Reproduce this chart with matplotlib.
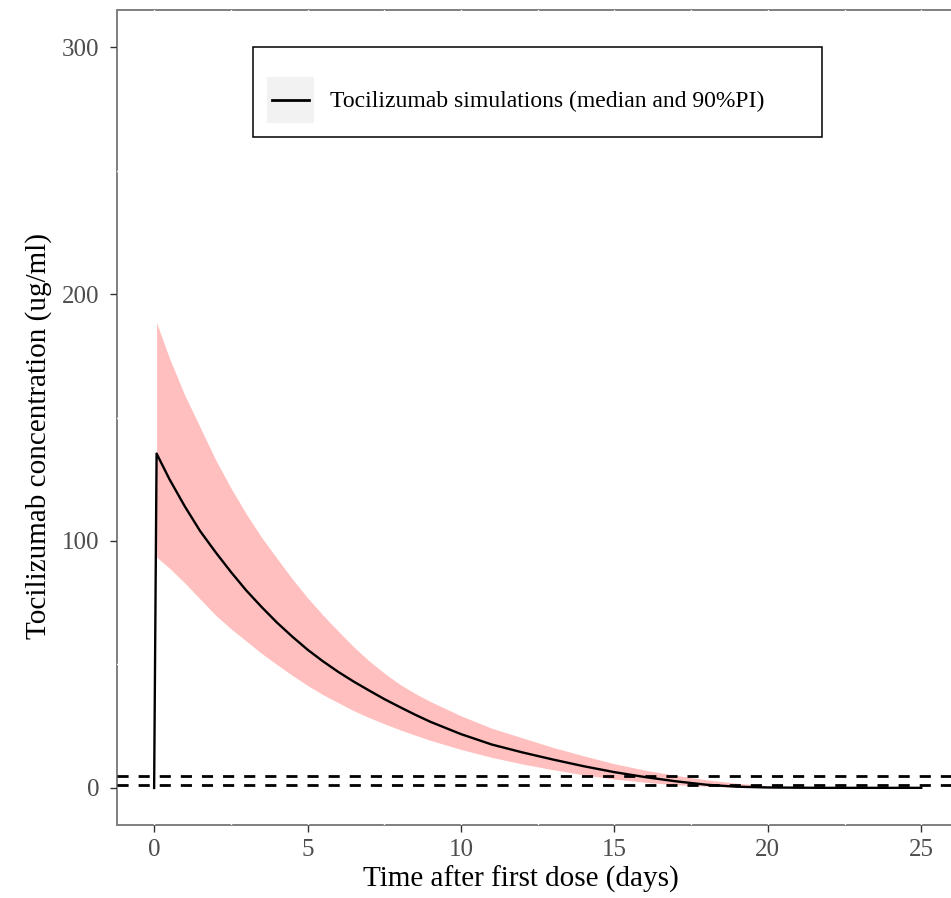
import matplotlib
matplotlib.use("Agg")
import matplotlib.pyplot as plt
from matplotlib.patches import Rectangle
from matplotlib.lines import Line2D
from matplotlib.legend_handler import HandlerBase
from matplotlib.ticker import MultipleLocator

plt.rcParams['font.family'] = ['Liberation Serif', 'DejaVu Serif']

# simulated concentration-time profile
time_median = [0, 0.08, 0.5, 1, 1.5, 2, 2.5, 3, 3.5, 4, 4.5, 5, 5.5, 6, 6.5, 7,
               7.5, 8, 8.5, 9, 10, 11, 12, 13, 14, 15, 16, 17, 18, 19, 20, 21,
               22, 23, 24, 25]
conc_median = [0, 135.4, 125, 114, 104, 95.5, 87.5, 80, 73.3, 67, 61.3, 56, 51.3,
               47, 43.1, 39.5, 36, 32.8, 29.7, 26.8, 21.8, 17.6, 14.4, 11.5, 8.8,
               6.4, 4.4, 2.7, 1.3, 0.5, 0.2, 0.1, 0.05, 0.05, 0.05, 0.05]

time_band = [0.08, 0.5, 1, 1.5, 2, 2.5, 3, 3.5, 4, 4.5, 5, 5.5, 6, 6.5, 7, 7.5,
             8, 8.5, 9, 10, 11, 12, 13, 14, 15, 16, 17, 18, 19, 20, 21, 22, 23,
             24, 25]
conc_p95 = [188.4, 174, 159, 146, 133, 121.5, 111, 101.5, 93, 84.7, 77, 70, 63.5,
            57.2, 51.5, 46.5, 42, 38.3, 35, 29.2, 24.2, 20.3, 16.4, 13, 9.8, 7.2,
            5.1, 3.3, 1.9, 0.9, 0.4, 0.2, 0.1, 0.1, 0.1]
conc_p05 = [93.5, 89, 83, 76.5, 70, 64.5, 59.5, 54.5, 50, 45.6, 41.5, 37.8, 34.5,
            31.3, 28.5, 26, 23.6, 21.4, 19.3, 15.6, 12.4, 9.7, 7.4, 5.3, 3.6, 2.3,
            1.3, 0.7, 0.3, 0.1, 0.05, 0.05, 0.05, 0.05, 0.05]

thresholds = [1, 5]


class KeyHandler(HandlerBase):
    # grey key box with a shorter black line, like a ggplot legend key
    def create_artists(self, legend, orig_handle, xdescent, ydescent,
                       width, height, fontsize, trans):
        box = Rectangle((-xdescent, -ydescent), width, height,
                        facecolor='#F2F2F2', edgecolor='none', transform=trans)
        inset = width * 0.1
        y = -ydescent + height / 2
        line = Line2D([-xdescent + inset, -xdescent + width - inset], [y, y],
                      color='black', lw=2.0, transform=trans)
        return [box, line]


W, H = 951, 898
fig = plt.figure(figsize=(W / 100, H / 100), dpi=100)
ax = fig.add_axes([117 / W, 73 / H, 842 / W, 815 / H])

ax.fill_between(time_band, conc_p05, conc_p95, color='#FFBFBF', lw=0, zorder=1)
median_line, = ax.plot(time_median, conc_median, color='black', lw=1.7, zorder=3)
for th in thresholds:
    ax.axhline(th, color='black', lw=2.0, linestyle=(0, (4, 3.6)), zorder=2)

ax.set_xlim(-1.21, 26.23)
ax.set_ylim(-15, 315)
ax.xaxis.set_major_locator(MultipleLocator(5))
ax.xaxis.set_minor_locator(MultipleLocator(2.5))
ax.yaxis.set_major_locator(MultipleLocator(100))
ax.yaxis.set_minor_locator(MultipleLocator(50))

# white grid only shows where it crosses the grey frame
for sp in ax.spines.values():
    sp.set_color('#7F7F7F')
    sp.set_linewidth(1.4)
    sp.set_zorder(0.3)
ax.grid(which='both', color='white', lw=1.0)
ax.set_axisbelow(True)

ax.tick_params(which='major', length=5, width=1.0, color='#333333',
               labelsize=18, labelcolor='#4D4D4D', pad=7.5)
ax.tick_params(axis='x', which='major', pad=5)
ax.tick_params(which='minor', length=0)

ax.set_xlabel('Time after first dose (days)', fontsize=21)
ax.set_ylabel('Tocilizumab concentration (ug/ml)', fontsize=21)
ax.xaxis.set_label_coords((521 - 117) / 842, (825 - 866) / 815)
ax.yaxis.set_label_coords((52 - 117) / 842, (825 - 436) / 815)

leg = fig.legend([median_line], ['Tocilizumab simulations (median and 90%PI)'],
                 handler_map={Line2D: KeyHandler()},
                 loc='upper left', mode='expand',
                 bbox_to_anchor=(253 / W, 1 - 137 / H, (822 - 253) / W, 90 / H),
                 borderaxespad=0, fontsize=17, frameon=True, fancybox=False,
                 edgecolor='black', framealpha=1, handlelength=1.99, handleheight=2.6,
                 handletextpad=0.65, borderpad=0.6, title=' ', title_fontsize=3)
leg.get_frame().set_linewidth(1.1)

fig.savefig('out.png', dpi=100)
